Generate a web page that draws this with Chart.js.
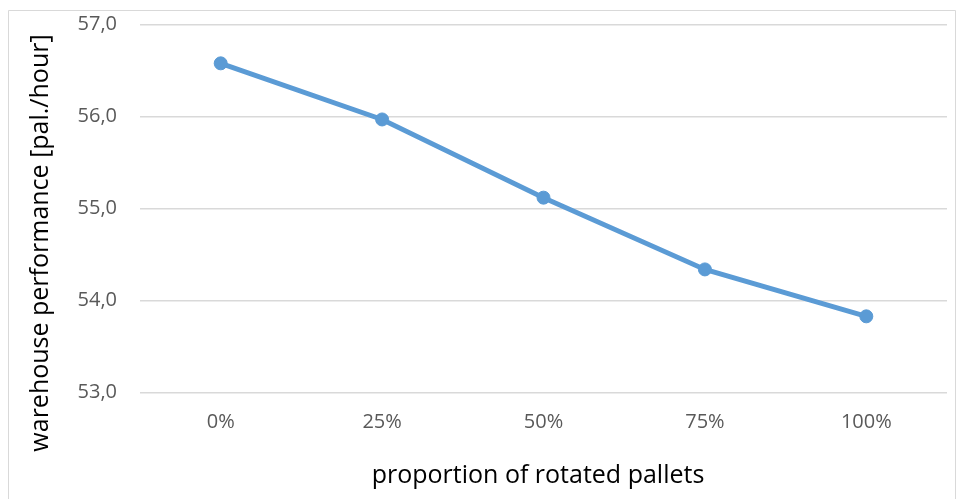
<!DOCTYPE html>
<html>
<head>
<meta charset="utf-8">
<script src="https://cdn.jsdelivr.net/npm/chart.js@4/dist/chart.umd.min.js"></script>
<style>
html,body{margin:0;padding:0;background:#fff;}
#wrap{width:961px;height:499px;position:relative;}
</style>
</head>
<body>
<div id="wrap"><canvas id="c" width="961" height="499"></canvas></div>
<script>
const categories = ["0%", "25%", "50%", "75%", "100%"];
const performance = [56.58, 55.97, 55.12, 54.34, 53.83];
const yMin = 53, yMax = 57, yStep = 1;
const xTitle = "proportion of rotated pallets";
const yTitle = "warehouse performance [pal./hour]";

const FONT = "'Open Sans', 'Liberation Sans', sans-serif";

const borderPlugin = {
  id: 'outerBorder',
  beforeDraw(chart) {
    const ctx = chart.ctx;
    ctx.save();
    ctx.fillStyle = '#ffffff';
    ctx.fillRect(0, 0, chart.width, chart.height);
    ctx.strokeStyle = '#d9d9d9';
    ctx.lineWidth = 1;
    ctx.beginPath();
    ctx.moveTo(8.5, 505);
    ctx.lineTo(8.5, 10.5);
    ctx.lineTo(955.5, 10.5);
    ctx.lineTo(955.5, 505);
    ctx.stroke();
    ctx.restore();
  },
  afterDraw(chart) {
    const ctx = chart.ctx;
    ctx.save();
    ctx.fillStyle = '#000000';
    ctx.font = "25px " + FONT;
    ctx.textAlign = 'center';
    ctx.textBaseline = 'middle';
    ctx.fillText(xTitle, 538, 476);
    ctx.translate(41, 243);
    ctx.rotate(-Math.PI / 2);
    ctx.fillText(yTitle, 0, 0);
    ctx.restore();
  }
};

new Chart(document.getElementById('c'), {
  type: 'line',
  data: {
    labels: categories,
    datasets: [{
      data: performance,
      borderColor: '#5b9bd5',
      backgroundColor: '#5b9bd5',
      borderWidth: 5,
      pointRadius: 6.5,
      pointBorderWidth: 1,
      pointBackgroundColor: '#5b9bd5',
      pointBorderColor: '#5b9bd5',
      tension: 0,
      fill: false
    }]
  },
  options: {
    responsive: false,
    animation: false,
    devicePixelRatio: 1,
    layout: { padding: { left: 0, top: 24.7, right: 14, bottom: 0 } },
    plugins: { legend: { display: false }, tooltip: { enabled: false } },
    scales: {
      x: {
        offset: true,
        grid: { display: false, drawTicks: false },
        border: { display: false },
        ticks: { color: '#595959', font: { family: FONT, size: 20 }, padding: 18 },
        title: { display: false },
        afterFit(scale) {
          scale.height = 106.3;
          scale.paddingLeft = 0; scale.paddingRight = 0;
          scale.paddingTop = 0; scale.paddingBottom = 0;
        }
      },
      y: {
        min: yMin, max: yMax,
        grid: { color: '#d9d9d9', lineWidth: 1.5, drawTicks: false },
        border: { display: false },
        ticks: {
          stepSize: yStep,
          color: '#595959',
          font: { family: FONT, size: 20 },
          padding: 23,
          callback: (v) => v.toFixed(1).replace('.', ',')
        },
        title: { display: false },
        afterFit(scale) {
          scale.width = 140;
          scale.paddingTop = 0; scale.paddingBottom = 0;
          scale.paddingLeft = 0; scale.paddingRight = 0;
        }
      }
    }
  },
  plugins: [borderPlugin]
});
</script>
</body>
</html>
